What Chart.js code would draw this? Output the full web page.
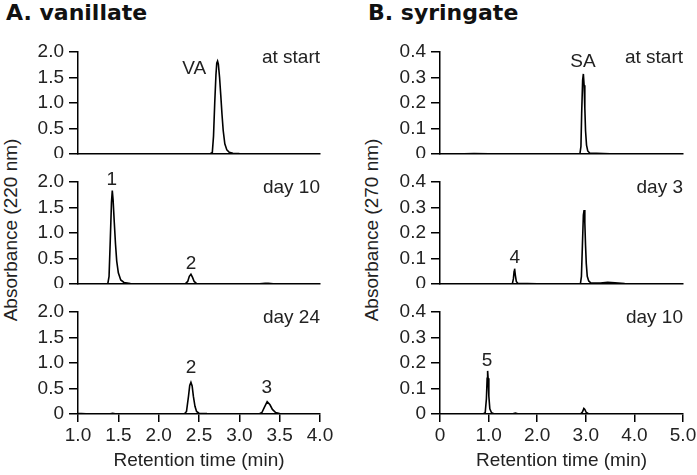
<!DOCTYPE html>
<html>
<head>
<meta charset="utf-8">
<script src="https://cdn.jsdelivr.net/npm/chart.js@4.4.0/dist/chart.umd.min.js"></script>
<style>
  body { margin: 0; background: #fff; width: 697px; height: 475px; position: relative; overflow: hidden;
         font-family: "Liberation Sans", Arial, sans-serif; color: #222; }
  canvas { position: absolute; }
  .ttl { position: absolute; font-family: "DejaVu Sans", sans-serif; font-weight: bold; font-size: 22px;
         line-height: 1; color: #111; white-space: nowrap; }
  .ylab { position: absolute; font-size: 19px; line-height: 1; white-space: nowrap;
          transform: translate(-50%, -50%) rotate(-90deg); }
</style>
</head>
<body>
<div class="ttl" style="left:6px; top:2px">A. vanillate</div>
<div class="ttl" style="left:368px; top:2px">B. syringate</div>
<div class="ylab" style="left:10px; top:230px">Absorbance (220 nm)</div>
<div class="ylab" style="left:371px; top:230px">Absorbance (270 nm)</div>

<canvas id="a1" width="316" height="118" style="left:20px; top:40px"></canvas>
<canvas id="a2" width="316" height="118" style="left:20px; top:170px"></canvas>
<canvas id="a3" width="316" height="175" style="left:20px; top:300px"></canvas>
<canvas id="b1" width="315" height="118" style="left:382px; top:40px"></canvas>
<canvas id="b2" width="315" height="118" style="left:382px; top:170px"></canvas>
<canvas id="b3" width="315" height="175" style="left:382px; top:300px"></canvas>

<script>
// A. vanillate (220 nm) - tiempo de retención (min) y absorbancia
const vaStartT = [1.0, 1.5, 2.0, 2.5, 2.64, 2.665, 2.68, 2.695, 2.71, 2.72, 2.73, 2.74, 2.755, 2.77, 2.785, 2.80, 2.82, 2.845, 2.875, 2.92, 3.0, 3.5, 4.0];
const vaStartA = [0.003, 0.003, 0.004, 0.004, 0.005, 0.03, 0.35, 1.0, 1.55, 1.78, 1.82, 1.76, 1.5, 1.15, 0.78, 0.46, 0.2, 0.08, 0.035, 0.015, 0.008, 0.004, 0.003];

const vaDay10T = [1.0, 1.2, 1.37, 1.385, 1.40, 1.415, 1.425, 1.435, 1.45, 1.465, 1.48, 1.50, 1.53, 1.57, 1.65, 2.0, 2.33, 2.36, 2.38, 2.40, 2.42, 2.44, 2.47, 2.6, 2.8, 3.25, 3.32, 3.36, 3.42, 3.6, 4.0];
const vaDay10A = [0.005, 0.005, 0.01, 0.15, 0.85, 1.6, 1.83, 1.65, 1.2, 0.78, 0.45, 0.22, 0.08, 0.03, 0.01, 0.005, 0.005, 0.05, 0.15, 0.19, 0.13, 0.05, 0.01, 0.005, 0.005, 0.005, 0.015, 0.015, 0.005, 0.005, 0.005];

const vaDay24T = [1.0, 1.04, 1.1, 1.4, 1.43, 1.46, 1.8, 2.2, 2.32, 2.345, 2.37, 2.385, 2.40, 2.415, 2.43, 2.45, 2.47, 2.5, 2.6, 3.0, 3.25, 3.28, 3.31, 3.345, 3.38, 3.41, 3.45, 3.5, 3.7, 4.0];
const vaDay24A = [0.01, 0.01, 0.005, 0.005, 0.015, 0.005, 0.005, 0.005, 0.005, 0.05, 0.35, 0.56, 0.62, 0.55, 0.35, 0.15, 0.05, 0.015, 0.008, 0.005, 0.005, 0.03, 0.13, 0.24, 0.18, 0.09, 0.03, 0.01, 0.005, 0.005];

// B. syringate (270 nm)
const saStartT = [0, 0.5, 0.7, 1.0, 1.5, 2.0, 2.5, 2.88, 2.90, 2.915, 2.935, 2.95, 2.965, 2.98, 2.995, 3.015, 3.04, 3.08, 3.5, 4.0, 5.0];
const saStartA = [0.001, 0.001, 0.002, 0.001, 0.001, 0.001, 0.001, 0.002, 0.03, 0.16, 0.29, 0.314, 0.27, 0.18, 0.09, 0.035, 0.012, 0.004, 0.001, 0.001, 0.001];

const saDay3T = [0, 0.5, 1.0, 1.49, 1.51, 1.525, 1.535, 1.55, 1.57, 1.6, 2.0, 2.5, 2.89, 2.91, 2.93, 2.95, 2.965, 2.98, 2.995, 3.01, 3.03, 3.06, 3.1, 3.3, 3.45, 3.6, 3.8, 4.5, 5.0];
const saDay3A = [0.001, 0.001, 0.001, 0.002, 0.02, 0.05, 0.06, 0.035, 0.01, 0.003, 0.001, 0.001, 0.002, 0.03, 0.15, 0.27, 0.29, 0.24, 0.15, 0.08, 0.03, 0.012, 0.005, 0.004, 0.007, 0.005, 0.002, 0.001, 0.001];

const saDay10T = [0, 0.5, 0.9, 0.93, 0.955, 0.97, 0.98, 0.99, 1.005, 1.025, 1.06, 1.1, 1.5, 1.55, 1.6, 2.5, 2.9, 2.93, 2.96, 2.98, 3.01, 3.05, 3.5, 4.5, 5.0];
const saDay10A = [0.001, 0.001, 0.002, 0.005, 0.06, 0.14, 0.169, 0.14, 0.07, 0.02, 0.005, 0.002, 0.001, 0.004, 0.001, 0.001, 0.002, 0.008, 0.022, 0.018, 0.006, 0.002, 0.001, 0.001, 0.001];

// etiquetas de picos (x = tiempo, y = absorbancia de la línea base del texto)
const vaStartLabels = [{ x: 2.44, y: 1.57, text: "VA" }];
const vaDay10Labels = [{ x: 1.42, y: 1.94, text: "1" }, { x: 2.40, y: 0.29, text: "2" }];
const vaDay24Labels = [{ x: 2.40, y: 0.80, text: "2" }, { x: 3.34, y: 0.41, text: "3" }];
const saStartLabels = [{ x: 2.94, y: 0.341, text: "SA" }];
const saDay3Labels = [{ x: 1.54, y: 0.082, text: "4" }];
const saDay10Labels = [{ x: 0.97, y: 0.19, text: "5" }];

const fontFam = '"Liberation Sans", Arial, sans-serif';
const txtColor = "#222";

function tickText(v) {
  return v === 0 ? "0" : v.toFixed(1);
}

function panel(id, times, abs, cfg) {
  const pts = times.map((t, i) => ({ x: t, y: abs[i] }));

  // dibuja el texto de la esquina y las etiquetas de los picos
  const textPlugin = {
    id: "panelText",
    afterDatasetsDraw(chart) {
      const { ctx, chartArea, scales } = chart;
      ctx.save();
      ctx.fillStyle = txtColor;
      ctx.font = "19px " + fontFam;
      ctx.textBaseline = "alphabetic";
      ctx.textAlign = "right";
      ctx.fillText(cfg.corner, chartArea.right, chartArea.top + 11);
      ctx.textAlign = "center";
      cfg.labels.forEach((l) => {
        ctx.fillText(l.text, scales.x.getPixelForValue(l.x), scales.y.getPixelForValue(l.y));
      });
      ctx.restore();
    },
  };

  new Chart(document.getElementById(id), {
    type: "line",
    data: {
      datasets: [
        {
          data: pts,
          borderColor: "#000",
          borderWidth: 1.6,
          pointRadius: 0,
          tension: 0,
          fill: false,
        },
      ],
    },
    options: {
      responsive: false,
      animation: false,
      events: [],
      layout: { padding: { top: 12, right: cfg.right, bottom: cfg.showX ? 0 : 4, left: 0 } },
      plugins: { legend: { display: false }, tooltip: { enabled: false } },
      scales: {
        x: {
          type: "linear",
          min: cfg.xmin,
          max: cfg.xmax,
          border: { display: true, color: "#000", width: 1.5 },
          grid: { display: cfg.showX, drawOnChartArea: false, drawTicks: true, tickLength: 8, color: "#000", lineWidth: 1.5 },
          ticks: {
            display: cfg.showX,
            stepSize: cfg.xstep,
            padding: 2,
            maxRotation: 0,
            autoSkip: false,
            color: txtColor,
            font: { family: fontFam, size: 19 },
            callback: tickText,
          },
          title: {
            display: cfg.showX,
            text: "Retention time (min)",
            color: txtColor,
            font: { family: fontFam, size: 19 },
            padding: { top: 0, bottom: 3 },
          },
          afterFit: (s) => {
            s.height = cfg.showX ? 61 : 0;
            s.paddingLeft = 0;
            s.paddingRight = 0;
          },
        },
        y: {
          min: 0,
          max: cfg.ymax,
          border: { display: true, color: "#000", width: 1.5 },
          grid: { drawOnChartArea: false, drawTicks: true, tickLength: 9, color: "#000", lineWidth: 1.5 },
          ticks: {
            stepSize: cfg.ystep,
            padding: 5,
            autoSkip: false,
            color: txtColor,
            font: { family: fontFam, size: 19 },
            callback: tickText,
          },
          afterFit: (s) => {
            s.width = 58;
            s.paddingTop = 0;
            s.paddingBottom = 0;
          },
        },
      },
    },
    plugins: [textPlugin],
  });
}

const colA = { xmin: 1, xmax: 4, xstep: 0.5, ymax: 2, ystep: 0.5, right: 16 };
const colB = { xmin: 0, xmax: 5, xstep: 1, ymax: 0.4, ystep: 0.1, right: 14 };

panel("a1", vaStartT, vaStartA, { ...colA, showX: false, corner: "at start", labels: vaStartLabels });
panel("a2", vaDay10T, vaDay10A, { ...colA, showX: false, corner: "day 10", labels: vaDay10Labels });
panel("a3", vaDay24T, vaDay24A, { ...colA, showX: true, corner: "day 24", labels: vaDay24Labels });
panel("b1", saStartT, saStartA, { ...colB, showX: false, corner: "at start", labels: saStartLabels });
panel("b2", saDay3T, saDay3A, { ...colB, showX: false, corner: "day 3", labels: saDay3Labels });
panel("b3", saDay10T, saDay10A, { ...colB, showX: true, corner: "day 10", labels: saDay10Labels });
</script>
</body>
</html>
